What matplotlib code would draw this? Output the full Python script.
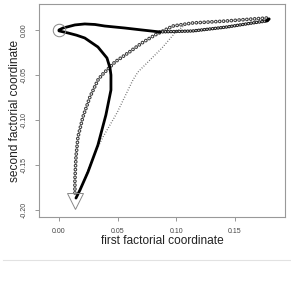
import matplotlib
matplotlib.use("Agg")
import matplotlib.pyplot as plt

plt.rcParams['font.family'] = ['Liberation Sans', 'DejaVu Sans']

# top branch: start -> far right tip (black, then the lower row of the loop)
top_x = [0.000, 0.0034, 0.0077, 0.0136, 0.022, 0.0307, 0.039, 0.056, 0.0707, 0.086,
         0.114, 0.143, 0.165, 0.177, 0.179]
top_y = [0.000, 0.0022, 0.0036, 0.0056, 0.0067, 0.0061, 0.0044, 0.0022, 0.000, -0.0022,
         -0.0011, 0.0033, 0.0078, 0.0100, 0.0122]
top_split = 10

# down branch: start -> triangle (black)
down_x = [0.000, 0.0077, 0.015, 0.022, 0.0332, 0.0409, 0.0435, 0.0443, 0.0443, 0.040, 0.0332,
          0.0247, 0.0179, 0.0145]
down_y = [-0.001, -0.0033, -0.0058, -0.0089, -0.0189, -0.0311, -0.0422, -0.050, -0.0667, -0.0944,
          -0.1278, -0.1578, -0.1778, -0.1867]

# open-circle trajectory: triangle -> up -> upper row of the loop
loop_x = [0.0136, 0.0136, 0.0145, 0.0162, 0.0204, 0.0264, 0.0332, 0.0366, 0.0477, 0.0588, 0.0707,
          0.0818, 0.0971, 0.114, 0.143, 0.165, 0.177, 0.179]
loop_y = [-0.181, -0.1667, -0.1411, -0.1189, -0.0967, -0.0744, -0.0556, -0.050, -0.0356, -0.0256, -0.0144,
          -0.0056, 0.0044, 0.0078, 0.0100, 0.0122, 0.0133, 0.0122]

# dotted trajectory: triangle -> upper loop
dot_x = [0.0162, 0.0222, 0.029, 0.0375, 0.0494, 0.063, 0.0673, 0.0878, 0.0988, 0.1073]
dot_y = [-0.1833, -0.1644, -0.1411, -0.1189, -0.0922, -0.0556, -0.0467, -0.020, -0.0033, 0.0056]

start = (0.0, 0.0)
end = (0.0136, -0.190)

xticks = [0.00, 0.05, 0.10, 0.15]
yticks = [0.00, -0.05, -0.10, -0.15, -0.20]


def ring_line(ax, xs, ys, step, color='#3a3a3a', outer=2.7, inner=1.2):
    # a row of small open circles: round dots with a white core
    ax.plot(xs, ys, color=color, lw=outer, linestyle=(0, (0.001, step / outer)),
            dash_capstyle='round')
    ax.plot(xs, ys, color='white', lw=inner, linestyle=(0, (0.001, step / inner)),
            dash_capstyle='round')


fig = plt.figure(figsize=(2.91, 2.83), dpi=100)
ax = fig.add_axes([0.134, 0.233, 0.845, 0.753])

ring_line(ax, loop_x, loop_y, 2.8)
ring_line(ax, top_x[top_split - 1:], top_y[top_split - 1:], 2.0, color='#222222',
          outer=2.5, inner=1.0)

ax.plot(dot_x, dot_y, color='#666666', lw=1.0, linestyle=(0, (0.6, 1.3)))

ax.plot(top_x[:top_split], top_y[:top_split], color='black', lw=2.0, solid_capstyle='round')
ax.plot(top_x[-2:], top_y[-2:], color='black', lw=2.2, solid_capstyle='round')
ax.plot(down_x, down_y, color='black', lw=2.0, solid_capstyle='round')

ax.plot(*start, marker='o', ms=9, mfc='none', mec='#888888', mew=0.7)
ax.plot(*end, marker='v', ms=12, mfc='none', mec='#888888', mew=0.7)

ax.set_xlim(-0.0170, 0.1925)
ax.set_ylim(-0.2078, 0.0289)
ax.set_xticks(xticks)
ax.set_xticklabels(['%.2f' % v for v in xticks])
ax.set_yticks(yticks)
ax.set_yticklabels(['%.2f' % v for v in yticks], rotation=90, va='center')
ax.tick_params(length=3, width=0.6, color='#888888', labelsize=5,
               labelcolor='#444444', pad=5)
for s in ax.spines.values():
    s.set_color('#999999')
    s.set_linewidth(0.8)

ax.set_xlabel('first factorial coordinate', fontsize=8.6, color='#222222', labelpad=0)
ax.set_ylabel('second factorial coordinate', fontsize=8.6, color='#222222', labelpad=0)

fig.add_artist(plt.Line2D([0.01, 0.997], [0.081, 0.081], transform=fig.transFigure,
                          color='#e2e2e2', lw=0.8))

fig.savefig('out.png', dpi=100)
